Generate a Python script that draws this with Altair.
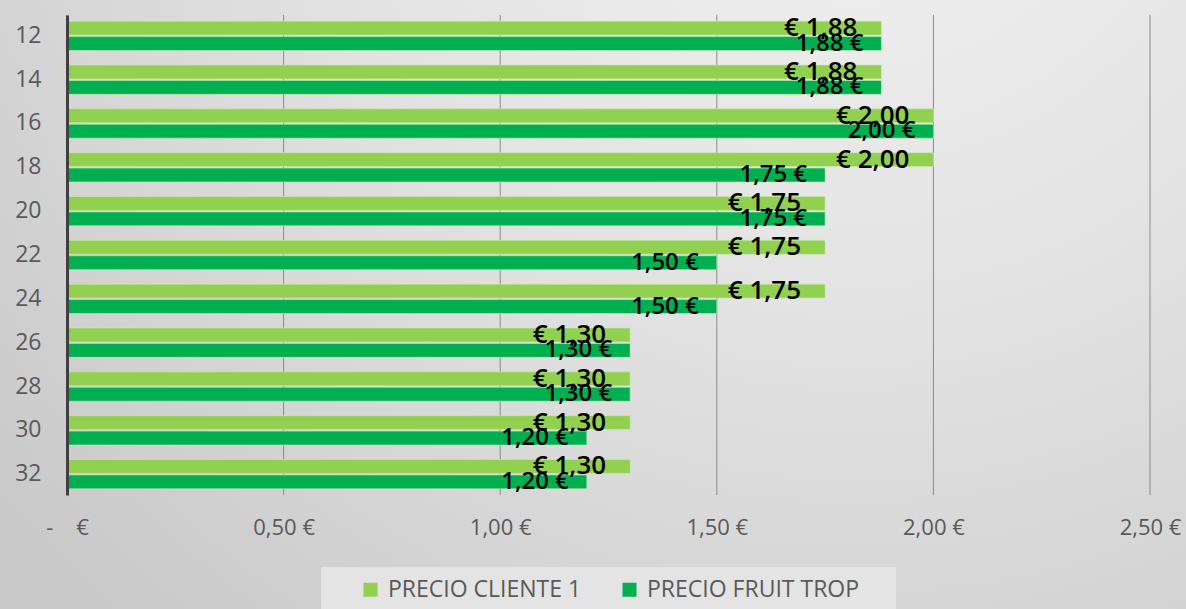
import altair as alt
import pandas as pd

cats = ["12", "14", "16", "18", "20", "22", "24", "26", "28", "30", "32"]
cliente = [1.88, 1.88, 2.00, 2.00, 1.75, 1.75, 1.75, 1.30, 1.30, 1.30, 1.30]
fruit = [1.88, 1.88, 2.00, 1.75, 1.75, 1.50, 1.50, 1.30, 1.30, 1.20, 1.20]
series = ["PRECIO CLIENTE 1", "PRECIO FRUIT TROP"]
colors = ["#92d050", "#00b050"]
x_ticks = [0, 0.5, 1.0, 1.5, 2.0, 2.5]

FONT = "Open Sans"
NB = "\u00a0"


def fmt(v):
    return f"{v:.2f}".replace(".", ",")


rows = []
for c, a, b in zip(cats, cliente, fruit):
    rows.append(dict(cat=c, serie=series[0], value=a, label="€ " + fmt(a)))
    rows.append(dict(cat=c, serie=series[1], value=b, label=fmt(b) + " €"))
df = pd.DataFrame(rows)
ticks_df = pd.DataFrame({"t": x_ticks})

W, H = 1083, 480

y_enc = alt.Y(
    "cat:N",
    sort=cats,
    scale=alt.Scale(paddingInner=0.33, paddingOuter=0.14),
    axis=alt.Axis(
        title=None, ticks=False, domainColor="#404040", domainWidth=3,
        labelFontSize=23, labelColor="#595959", labelPadding=26, labelFont=FONT,
        grid=False, zindex=1,
    ),
)
yoff = alt.YOffset("serie:N", sort=series, scale=alt.Scale(paddingInner=0.1))
zero_label = "-" + NB * 4 + "€"
x_enc = alt.X(
    "value:Q",
    scale=alt.Scale(domain=[0, 2.5], nice=False),
    axis=alt.Axis(
        title=None, values=x_ticks, ticks=False, domain=False, grid=False,
        labelExpr=f"datum.value == 0 ? '{zero_label}' : replace(format(datum.value, '.2f'), '.', ',') + ' €'",
        labelPadding=22, labelFontSize=22, labelColor="#595959", labelFont=FONT,
        labelBaseline="top", labelFlush=False, zindex=1,
    ),
)
color = alt.Color(
    "serie:N",
    sort=series,
    scale=alt.Scale(domain=series, range=colors),
    legend=alt.Legend(
        title=None, orient="none", direction="horizontal",
        legendX=288, legendY=559, padding=4,
        symbolType="square", symbolSize=196, symbolStrokeWidth=0,
        labelFontSize=23, labelColor="#595959", labelFont=FONT,
        labelOffset=6, columnPadding=36, labelLimit=400,
    ),
)

bg = alt.Chart(alt.Data(values=[{}])).mark_rect(
    color=alt.RadialGradient(
        gradient="radial",
        stops=[
            alt.GradientStop(color="#f4f4f4", offset=0),
            alt.GradientStop(color="#e2e2e2", offset=0.5),
            alt.GradientStop(color="#c9c9c9", offset=1),
        ],
        x1=0.72, y1=0.05, r1=0, x2=0.72, y2=0.05, r2=0.95,
    )
).encode(
    x=alt.value(-67), x2=alt.value(W + 36), y=alt.value(-15), y2=alt.value(H + 114)
)

legend_box = alt.Chart(alt.Data(values=[{}])).mark_rect(color="#e4e4e4").encode(
    x=alt.value(254), x2=alt.value(829), y=alt.value(552), y2=alt.value(H + 120)
)

grid = alt.Chart(ticks_df).mark_rule(color="#8a8a8a", strokeWidth=1).encode(
    x=alt.X("t:Q")
)

base = alt.Chart(df)
bars = base.mark_bar(stroke="#c8ecb0", strokeWidth=0.6).encode(
    x=x_enc, y=y_enc, yOffset=yoff, color=color
)
text_cli = base.transform_filter(alt.datum.serie == series[0]).mark_text(
    align="right", baseline="middle", dx=-24, fontSize=26, fontWeight=600,
    font=FONT, color="#000000",
).encode(x="value:Q", y=alt.Y("cat:N", sort=cats), yOffset=yoff, text="label:N")
text_fr = base.transform_filter(alt.datum.serie == series[1]).mark_text(
    align="right", baseline="middle", dx=-18, fontSize=24, fontWeight=600,
    font=FONT, color="#000000",
).encode(x="value:Q", y=alt.Y("cat:N", sort=cats), yOffset=yoff, text="label:N")

chart = alt.layer(bg, legend_box, grid, bars, text_cli, text_fr).properties(
    width=W, height=H,
    padding={"left": 67, "top": 15, "right": 36, "bottom": 114},
    autosize=alt.AutoSizeParams(type="none"),
    background="#d8d8d8",
).configure_view(stroke=None)

chart.save("out.html", embed_options={"renderer": "svg", "actions": False})
